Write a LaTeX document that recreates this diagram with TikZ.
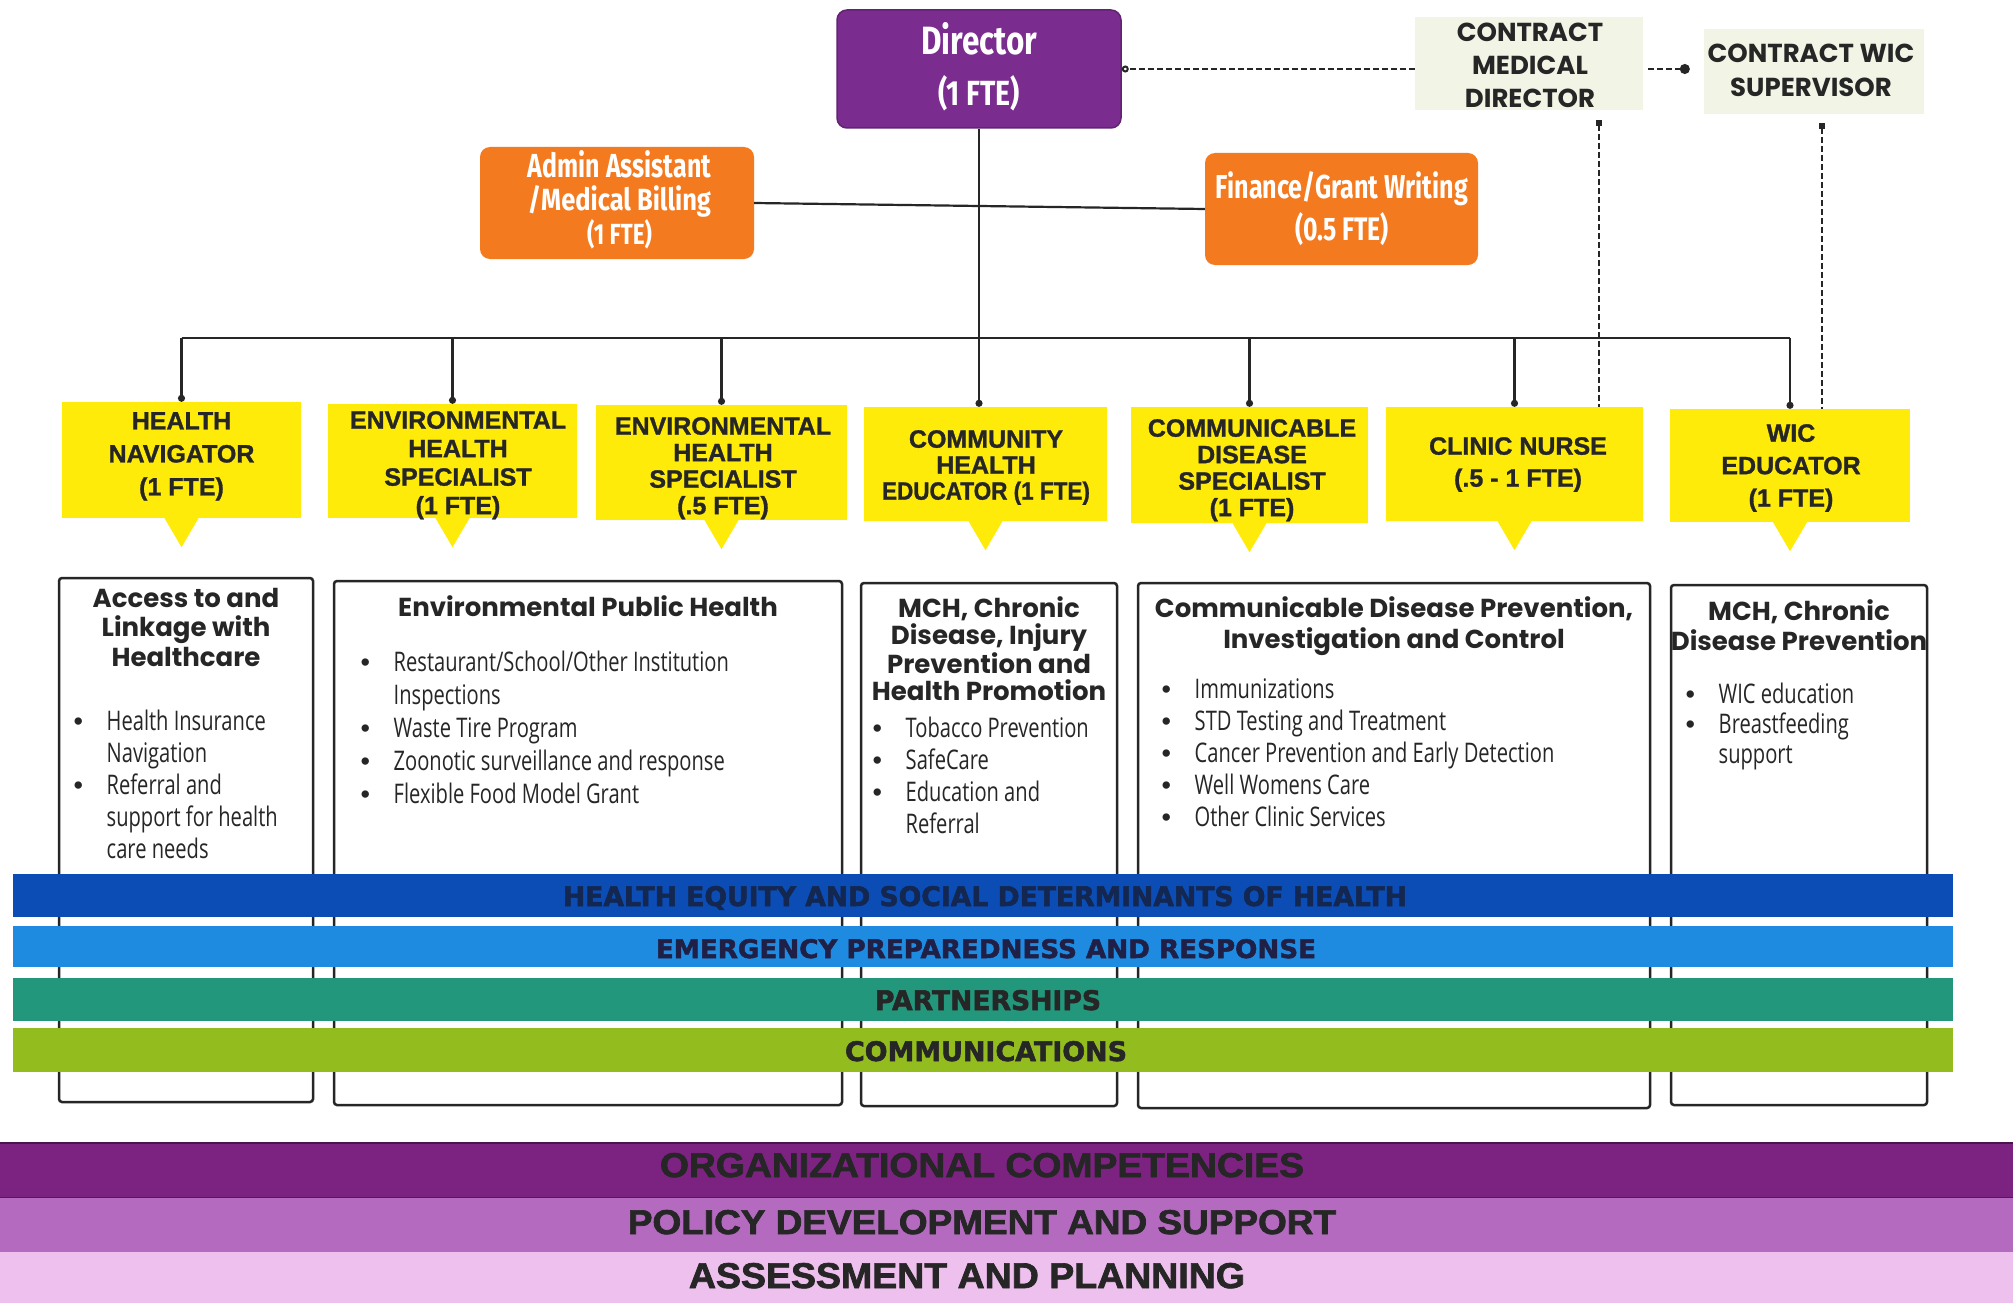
\documentclass[tikz,border=0pt]{standalone}
\usepackage{fontspec}
\usepackage{graphicx}
\setmainfont{Liberation Sans}
\newfontfamily\popf{Poppins}
\newfontfamily\opf{Open Sans}[FakeStretch=0.745]
\newfontfamily\firaf{Fira Sans}[FakeStretch=0.7]
\newfontfamily\dejah{DejaVu Sans Bold}[FakeBold=2]
\newfontfamily\libf{Liberation Sans}
\newfontfamily\libh{Liberation Sans Bold}[FakeBold=1.2]
\newfontfamily\libhh{Liberation Sans Bold}[FakeBold=2]
\usetikzlibrary{arrows.meta}
\definecolor{dirpur}{HTML}{7B2C8F}
\definecolor{orng}{HTML}{F47A20}
\definecolor{yel}{HTML}{FFEB0A}
\definecolor{cbg}{HTML}{F2F5E6}
\definecolor{bandA}{HTML}{0B4DB4}
\definecolor{bandB}{HTML}{1E8BE0}
\definecolor{bandC}{HTML}{23977B}
\definecolor{bandD}{HTML}{93BD1F}
\definecolor{purA}{HTML}{7C2381}
\definecolor{purB}{HTML}{B36ABF}
\definecolor{purC}{HTML}{EEC0ED}
\definecolor{ink}{HTML}{262626}
\definecolor{bandtxtA}{HTML}{132750}
\tikzset{
  conn/.style={draw=ink, line width=2.2pt},
  dconn/.style={draw=ink, line width=2pt, dash pattern=on 6pt off 3pt},
  dirbox/.style={fill=dirpur, draw=dirpur!80!black, line width=1.5pt, rounded corners=10pt, inner sep=0pt},
  obox/.style={fill=orng, rounded corners=10pt, inner sep=0pt},
  cbox/.style={fill=cbg, inner sep=0pt},
  ybox/.style={fill=yel, inner sep=0pt},
  ytxt/.style={inner sep=0pt, anchor=north, align=center, text=ink, font=\libh\fontsize{25pt}{#1pt}\selectfont},
  ctxt/.style={inner sep=0pt, anchor=north, align=center, text=ink, font=\popf\bfseries\fontsize{26pt}{#1pt}\selectfont},
  wtxt/.style={inner sep=0pt, anchor=base, text=white},
  ctitle/.style={inner sep=0pt, anchor=north, align=center, text=ink, font=\popf\bfseries\fontsize{26pt}{#1pt}\selectfont},
  blist/.style={inner sep=0pt, anchor=north west, text=ink, font=\opf\fontsize{27pt}{#1pt}\selectfont},
  cont/.style={draw=ink, line width=2.5pt, rounded corners=3pt, fill=white, inner sep=0pt},
  band/.style={inner sep=0pt, outer sep=0pt},
  btxt/.style={inner sep=0pt, anchor=base},
}
\newcommand{\bul}{\makebox[33pt][l]{\libf\textbullet}}
\begin{document}
\begin{tikzpicture}[x=1pt,y=-1pt]
\useasboundingbox (0,0) rectangle (2013,1303);
\fill[white] (0,0) rectangle (2013,1303);

% top boxes
\node[dirbox, minimum width=284pt, minimum height=118pt] (dir) at (979,69) {};
\node[wtxt] (dirt1) at (979,55) {\resizebox{116pt}{32pt}{\firaf\bfseries Director}};
\node[wtxt] (dirt2) at (979,106) {\resizebox{82pt}{30pt}{\firaf\bfseries (1 FTE)}};

\node[obox, minimum width=274pt, minimum height=112pt] (adm) at (617,203) {};
\node[wtxt] (admt1) at (619.5,177) {\resizebox{183pt}{27pt}{\firaf\bfseries Admin Assistant}};
\node[wtxt] (admt2) at (619.5,210) {\resizebox{183pt}{25pt}{\firaf\bfseries /Medical Billing}};
\node[wtxt] (admt3) at (619.5,244) {\resizebox{65pt}{25pt}{\firaf\bfseries (1 FTE)}};

\node[obox, minimum width=273pt, minimum height=112pt] (fin) at (1341.5,209) {};
\node[wtxt] (fint1) at (1342,198) {\resizebox{252pt}{27pt}{\firaf\bfseries Finance/Grant Writing}};
\node[wtxt] (fint2) at (1342,240) {\resizebox{94pt}{28pt}{\firaf\bfseries (0.5 FTE)}};

\node[cbox, minimum width=228pt, minimum height=93pt] (cmd) at (1529,63.5) {};
\node[ctxt=33] (cmdt) at (1530,23) {CONTRACT\\MEDICAL\\DIRECTOR};
\node[cbox, minimum width=220pt, minimum height=85pt] (cws) at (1814,71.5) {};
\node[ctxt=34] (cwst) at (1811,44) {CONTRACT WIC\\SUPERVISOR};

% yellow position boxes
\node[ybox, minimum width=239pt, minimum height=116pt] (hn) at (181.5,460) {};
\node[ybox, minimum width=249pt, minimum height=114pt] (ehsa) at (452.5,461) {};
\node[ybox, minimum width=251pt, minimum height=115pt] (ehsb) at (721.5,462.5) {};
\node[ybox, minimum width=243pt, minimum height=114pt] (che) at (985.5,464) {};
\node[ybox, minimum width=237pt, minimum height=116pt] (cds) at (1249.5,465) {};
\node[ybox, minimum width=257pt, minimum height=114pt] (cln) at (1514.5,464) {};
\node[ybox, minimum width=240pt, minimum height=113pt] (wic) at (1790,465.5) {};
\foreach \b in {hn,ehsa,ehsb,che,cds,cln,wic}{
  \fill[yel] ([xshift=-17pt]\b.south) -- ([xshift=17pt]\b.south) -- ([yshift=-29pt]\b.south) -- cycle;
}
\node[ytxt=33] (hnt) at (181.5,412) {HEALTH\\NAVIGATOR\\(1 FTE)};
\node[ytxt=28.5] (ehsat) at (458,411) {ENVIRONMENTAL\\HEALTH\\SPECIALIST\\(1 FTE)};
\node[ytxt=26.5] (ehsbt) at (723,417) {ENVIRONMENTAL\\HEALTH\\SPECIALIST\\(.5 FTE)};
\node[ytxt=26] (chet) at (986,430) {COMMUNITY\\HEALTH\\\scalebox{0.9}[1]{EDUCATOR (1 FTE)}};
\node[ytxt=26.5] (cdst) at (1252,419) {COMMUNICABLE\\DISEASE\\SPECIALIST\\(1 FTE)};
\node[ytxt=32] (clnt) at (1518,437) {CLINIC NURSE\\(.5 - 1 FTE)};
\node[ytxt=32.5] (wict) at (1791,424) {WIC\\EDUCATOR\\(1 FTE)};

% connectors
\coordinate (bus) at (0,338);
\draw[conn] (adm.east) -- (fin.west);
\draw[conn] (hn.north |- bus) -- (wic.north |- bus);
\draw[conn, -{Circle[length=7pt]}] (dir.south) -- (dir.south |- che.north);
\foreach \b in {hn,ehsa,ehsb,cds,cln,wic}{
  \draw[conn, -{Circle[length=7pt]}] (\b.north |- bus) -- (\b.north);
}
\draw[dconn, -{Circle[open,length=7pt]}] (cmd.west |- dir.east) -- (dir.east);
\draw[dconn, -{Circle[length=10pt]}, shorten <=5pt, shorten >=14pt] (cmd.east |- dir.east) -- (cws.west |- dir.east);
\coordinate (cmdp) at (1599,120);
\coordinate (cwsp) at (1822,123);
\draw[dconn, {Square[length=6pt]}-] (cmdp) -- (cmdp |- cln.north);
\draw[dconn, {Square[length=6pt]}-] (cwsp) -- (cwsp |- wic.north);

% content boxes
\node[cont, minimum width=254pt, minimum height=524pt] (ba) at (186,840) {};
\node[cont, minimum width=508pt, minimum height=524pt] (bb) at (588,843) {};
\node[cont, minimum width=256pt, minimum height=523pt] (bc) at (989,844.5) {};
\node[cont, minimum width=512pt, minimum height=525pt] (bd) at (1394,845.5) {};
\node[cont, minimum width=256pt, minimum height=520pt] (be) at (1799,845) {};

\node[ctitle=29.5] (bat) at (186,588) {Access to and\\Linkage with\\Healthcare};
\node[ctitle=30] (bbt) at (588,595) {Environmental Public Health};
\node[ctitle=27.5] (bct) at (989,596) {MCH, Chronic\\Disease, Injury\\Prevention and\\Health Promotion};
\node[ctitle=31] (bdt) at (1394,596) {Communicable Disease Prevention,\\Investigation and Control};
\node[ctitle=30] (bet) at (1799,599) {MCH, Chronic\\Disease Prevention};

\node[blist=32] (bal) at (73.5,707.6) {\begin{tabular}{@{}l@{}l@{}}
\bul & Health Insurance\\ & Navigation\\ \bul & Referral and\\ & support for health\\ & care needs\end{tabular}};
\node[blist=33] (bbl) at (360.5,647.9) {\begin{tabular}{@{}l@{}l@{}}
\bul & Restaurant/School/Other Institution\\ & Inspections\\ \bul & Waste Tire Program\\ \bul & Zoonotic surveillance and response\\ \bul & Flexible Food Model Grant\end{tabular}};
\node[blist=32] (bcl) at (872.5,714.6) {\begin{tabular}{@{}l@{}l@{}}
\bul & Tobacco Prevention\\ \bul & SafeCare\\ \bul & Education and\\ & Referral\end{tabular}};
\node[blist=32] (bdl) at (1161.5,675.6) {\begin{tabular}{@{}l@{}l@{}}
\bul & Immunizations\\ \bul & STD Testing and Treatment\\ \bul & Cancer Prevention and Early Detection\\ \bul & Well Womens Care\\ \bul & Other Clinic Services\end{tabular}};
\node[blist=30] (bel) at (1685.5,682) {\begin{tabular}{@{}l@{}l@{}}
\bul & WIC education\\ \bul & Breastfeeding\\ & support\end{tabular}};

% cross-cutting bands
\node[band, fill=bandA, minimum width=1940pt, minimum height=43pt] (hebar) at (983,895.5) {};
\node[band, fill=bandB, minimum width=1940pt, minimum height=41pt] (epbar) at (983,946.5) {};
\node[band, fill=bandC, minimum width=1940pt, minimum height=43pt] (ptbar) at (983,999.5) {};
\node[band, fill=bandD, minimum width=1940pt, minimum height=44pt] (cmbar) at (983,1050) {};
\node[btxt, text=bandtxtA] (het) at (985,906) {\resizebox{844pt}{20pt}{\dejah HEALTH EQUITY AND SOCIAL DETERMINANTS OF HEALTH}};
\node[btxt, text=ink!85!blue] (ept) at (986,958) {\resizebox{660pt}{19pt}{\dejah EMERGENCY PREPAREDNESS AND RESPONSE}};
\node[btxt, text=ink] (ptt) at (988,1010) {\resizebox{226pt}{20pt}{\dejah PARTNERSHIPS}};
\node[btxt, text=ink] (cmt) at (986,1061) {\resizebox{282pt}{20pt}{\dejah COMMUNICATIONS}};

% foundation bands
\node[band, fill=purA, minimum width=2013pt, minimum height=54pt] (oca) at (1006.5,1170) {};
\node[band, fill=purB, minimum width=2013pt, minimum height=55pt] (pdb) at (1006.5,1224.5) {};
\node[band, fill=purC, minimum width=2013pt, minimum height=51pt] (apc) at (1006.5,1277.5) {};
\draw[draw=purA!60!black, line width=1.5pt] (oca.north west) -- (oca.north east);
\draw[draw=purA!70!black, line width=1pt] (oca.south west) -- (oca.south east);
\node[btxt, text=ink] (oct) at (982,1177) {\resizebox{644pt}{24pt}{\libhh ORGANIZATIONAL COMPETENCIES}};
\node[btxt, text=ink] (pdt) at (982,1234) {\resizebox{708pt}{24pt}{\libhh POLICY DEVELOPMENT AND SUPPORT}};
\node[btxt, text=ink] (apt) at (967,1288) {\resizebox{556pt}{25pt}{\libhh ASSESSMENT AND PLANNING}};
\end{tikzpicture}
\end{document}
